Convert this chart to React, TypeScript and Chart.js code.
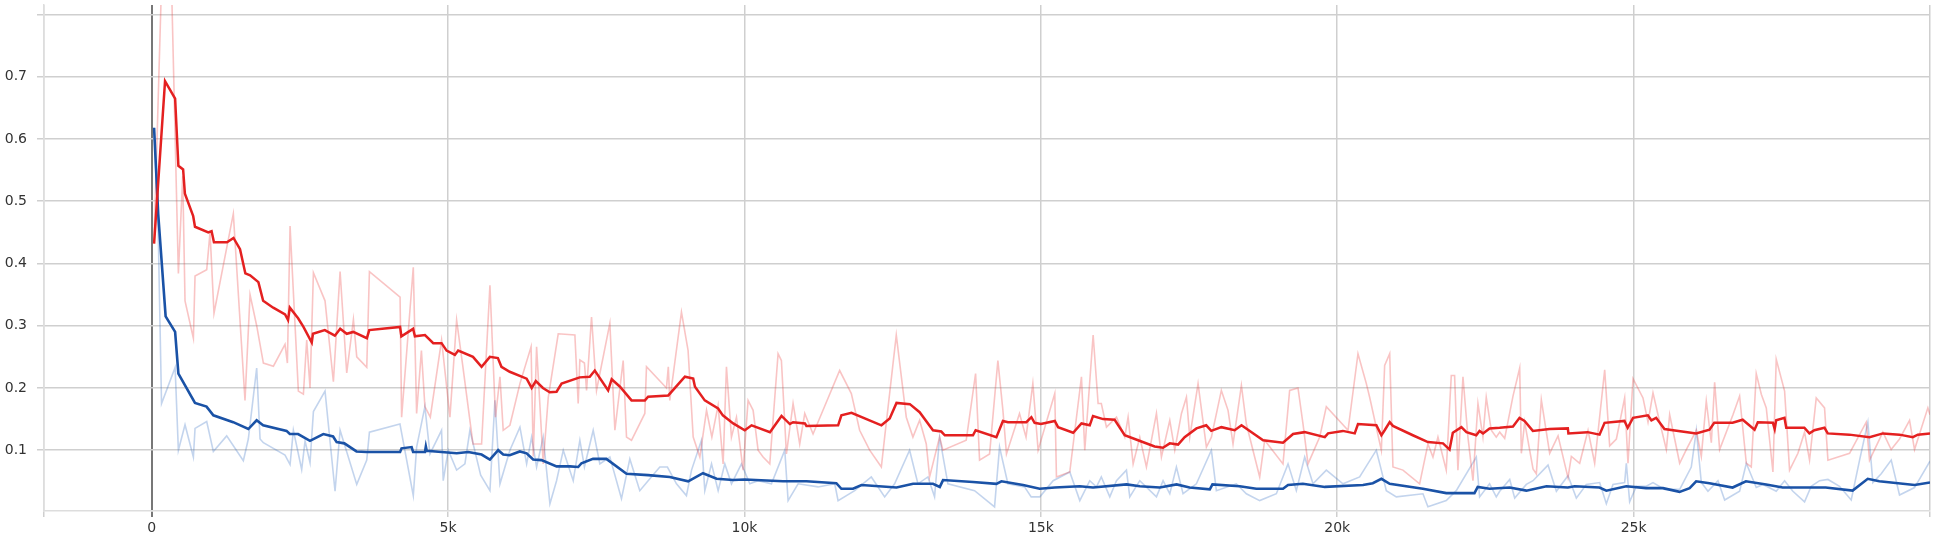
import React, { useEffect, useRef } from "react";
import { Chart, registerables } from "chart.js";

Chart.register(...registerables);

// x tick labels (steps)
const xTickValues = [0, 5000, 10000, 15000, 20000, 25000];
const xTickLabels = ["0", "5k", "10k", "15k", "20k", "25k"];
const yTickValues = [0.1, 0.2, 0.3, 0.4, 0.5, 0.6, 0.7, 0.8];
const yTickLabels = ["0.1", "0.2", "0.3", "0.4", "0.5", "0.6", "0.7", ""];

// Red run – smoothed
const redSmoothSteps = [40,225,395,450,530,560,700,730,955,1010,1050,1270,1380,1490,1580,1660,1800,1880,2050,2250,2300,2330,2470,2560,2700,2720,2920,3090,3180,3290,3400,3630,3670,4190,4212,4410,4440,4610,4750,4890,4975,5115,5170,5420,5565,5705,5840,5900,6040,6325,6410,6480,6600,6715,6830,6915,7220,7390,7475,7700,7760,7900,8095,8320,8375,8715,8995,9135,9165,9330,9555,9635,9810,10005,10120,10430,10625,10765,10820,11020,11045,11580,11635,11805,12310,12450,12565,12790,12955,13180,13320,13380,13855,13900,14250,14360,14445,14755,14840,14895,15000,15235,15290,15545,15685,15825,15880,16050,16245,16415,16640,16920,17060,17175,17315,17425,17625,17790,17875,18045,18270,18385,18750,19085,19255,19450,19790,19845,20095,20295,20350,20660,20745,20800,20885,20940,21275,21530,21785,21895,21950,22095,22180,22345,22400,22460,22570,22740,22965,23075,23160,23300,23580,23890,23900,24225,24425,24510,24845,24900,24990,25240,25300,25380,25520,26055,26280,26360,26670,26840,27040,27095,27350,27380,27405,27545,27575,27880,27965,28050,28220,28275,28640,28980,29205,29485,29710,29795,30000];
const redSmoothValues = [0.432,0.693,0.665,0.557,0.551,0.512,0.476,0.459,0.45,0.452,0.434,0.434,0.441,0.423,0.384,0.381,0.37,0.34,0.329,0.318,0.309,0.329,0.312,0.298,0.273,0.287,0.293,0.284,0.295,0.287,0.29,0.28,0.293,0.298,0.283,0.295,0.283,0.285,0.272,0.272,0.26,0.253,0.26,0.25,0.234,0.25,0.248,0.234,0.226,0.215,0.2,0.211,0.2,0.193,0.194,0.207,0.217,0.218,0.228,0.196,0.214,0.202,0.18,0.18,0.186,0.188,0.218,0.215,0.202,0.18,0.167,0.156,0.143,0.132,0.14,0.129,0.155,0.142,0.145,0.143,0.139,0.14,0.156,0.16,0.14,0.151,0.176,0.174,0.161,0.132,0.13,0.124,0.124,0.132,0.121,0.147,0.145,0.145,0.153,0.144,0.142,0.147,0.137,0.128,0.143,0.14,0.155,0.15,0.149,0.124,0.116,0.106,0.104,0.111,0.109,0.121,0.135,0.14,0.131,0.137,0.132,0.14,0.116,0.112,0.126,0.129,0.121,0.127,0.131,0.127,0.142,0.14,0.124,0.132,0.145,0.139,0.124,0.113,0.111,0.101,0.128,0.137,0.129,0.124,0.131,0.127,0.135,0.136,0.138,0.152,0.147,0.131,0.134,0.135,0.127,0.129,0.125,0.144,0.147,0.136,0.152,0.156,0.148,0.152,0.134,0.127,0.133,0.144,0.144,0.149,0.133,0.145,0.144,0.134,0.148,0.152,0.136,0.136,0.127,0.132,0.136,0.127,0.125,0.121,0.127,0.125,0.121,0.125,0.127];

// Red run – raw
const redRawSteps = [39,196,309,450,523,562,703,731,928,984,1051,1377,1574,1659,1771,1884,2053,2249,2289,2334,2474,2559,2615,2671,2728,2924,3065,3178,3290,3403,3459,3628,3673,4190,4216,4413,4469,4550,4609,4700,4890,5031,5144,5250,5420,5565,5706,5800,5875,5930,6043,6212,6400,6437,6493,6605,6690,6858,7139,7195,7223,7300,7336,7420,7504,7729,7814,7954,8010,8094,8319,8347,8684,8715,8740,8937,9049,9135,9247,9360,9450,9555,9640,9696,9780,9865,9977,10061,10146,10230,10314,10427,10567,10623,10708,10820,10932,11017,11157,11606,11803,11943,12112,12309,12365,12561,12730,12842,12955,13067,13123,13292,13348,13741,13899,13966,14135,14275,14360,14420,14640,14750,14865,14954,15235,15263,15488,15685,15741,15882,15966,16020,16107,16276,16416,16472,16557,16669,16781,16950,17034,17175,17259,17372,17456,17512,17652,17793,17877,18045,18158,18242,18383,18467,18692,18776,19085,19197,19338,19423,19507,19704,19816,20182,20350,20491,20547,20744,20800,20885,20940,21109,21390,21530,21615,21699,21839,21924,21980,22036,22121,22205,22290,22374,22458,22514,22599,22683,22741,22825,22965,23078,23106,23162,23303,23359,23443,23584,23725,23893,23950,24090,24231,24343,24512,24596,24709,24849,24905,24990,25158,25243,25327,25411,25552,25608,25777,25889,26058,26142,26226,26311,26367,26451,26676,26788,26901,26985,27069,27154,27238,27350,27406,27547,27631,27772,27884,27968,28081,28221,28278,28643,28924,28980,29205,29345,29486,29655,29739,29964,30000];
const redRawValues = [0.432,0.95,0.95,0.384,0.54,0.34,0.28,0.38,0.39,0.45,0.32,0.48,0.18,0.35,0.3,0.24,0.235,0.27,0.24,0.46,0.195,0.19,0.277,0.2,0.385,0.34,0.21,0.387,0.224,0.31,0.25,0.233,0.387,0.346,0.153,0.394,0.159,0.26,0.17,0.153,0.277,0.153,0.309,0.234,0.11,0.11,0.365,0.153,0.218,0.132,0.14,0.207,0.266,0.09,0.266,0.078,0.185,0.287,0.285,0.175,0.245,0.24,0.196,0.314,0.196,0.304,0.132,0.244,0.121,0.116,0.159,0.234,0.2,0.234,0.18,0.322,0.26,0.121,0.089,0.164,0.121,0.172,0.078,0.234,0.121,0.153,0.068,0.18,0.164,0.1,0.089,0.078,0.255,0.244,0.094,0.175,0.11,0.159,0.126,0.228,0.191,0.132,0.1,0.073,0.121,0.285,0.153,0.121,0.148,0.11,0.057,0.121,0.1,0.116,0.223,0.084,0.094,0.244,0.164,0.094,0.159,0.121,0.207,0.1,0.191,0.057,0.065,0.218,0.1,0.285,0.175,0.175,0.137,0.153,0.121,0.153,0.078,0.121,0.073,0.159,0.089,0.148,0.1,0.159,0.185,0.121,0.207,0.105,0.121,0.196,0.164,0.11,0.204,0.142,0.057,0.116,0.078,0.196,0.2,0.142,0.078,0.121,0.17,0.132,0.255,0.207,0.185,0.1,0.236,0.255,0.073,0.068,0.046,0.11,0.089,0.121,0.068,0.22,0.22,0.068,0.218,0.121,0.051,0.175,0.121,0.185,0.132,0.121,0.129,0.119,0.187,0.232,0.095,0.145,0.07,0.062,0.181,0.095,0.123,0.056,0.09,0.079,0.132,0.079,0.229,0.107,0.118,0.184,0.079,0.215,0.184,0.145,0.192,0.157,0.101,0.157,0.079,0.101,0.132,0.09,0.179,0.112,0.209,0.101,0.157,0.187,0.079,0.073,0.223,0.19,0.168,0.065,0.246,0.195,0.068,0.095,0.129,0.084,0.184,0.168,0.084,0.095,0.145,0.084,0.129,0.101,0.118,0.148,0.101,0.168,0.157];

// Blue run – smoothed
const blueSmoothSteps = [40,110,235,395,450,730,925,1040,1375,1630,1770,1880,2275,2330,2470,2670,2895,3060,3120,3250,3455,3625,4190,4215,4385,4410,4610,4625,4640,4890,5145,5340,5565,5705,5845,5930,6040,6210,6325,6435,6575,6830,7055,7195,7250,7445,7670,8010,8375,8740,9050,9300,9530,9810,10005,10650,11045,11550,11635,11830,11975,12565,12845,13180,13295,13350,13855,14250,14335,14700,14980,15235,15655,15880,16445,16670,17005,17290,17510,17850,17895,18355,18635,19085,19170,19420,19790,20435,20600,20745,20885,21445,21840,22315,22370,22570,22910,23190,23530,23890,24005,24425,24540,24875,25210,25495,25775,25945,26055,26280,26670,26895,27235,27515,28240,28695,28950,29145,29740,30000];
const blueSmoothValues = [0.618,0.479,0.315,0.29,0.223,0.176,0.17,0.156,0.145,0.134,0.148,0.14,0.131,0.126,0.126,0.115,0.126,0.122,0.113,0.111,0.098,0.097,0.097,0.103,0.105,0.097,0.097,0.106,0.099,0.097,0.095,0.097,0.093,0.085,0.1,0.093,0.092,0.098,0.095,0.085,0.084,0.074,0.074,0.073,0.079,0.086,0.086,0.062,0.06,0.057,0.05,0.063,0.054,0.052,0.053,0.05,0.05,0.047,0.038,0.038,0.044,0.04,0.046,0.046,0.041,0.052,0.049,0.046,0.05,0.044,0.038,0.04,0.042,0.04,0.045,0.042,0.04,0.045,0.04,0.037,0.045,0.042,0.038,0.038,0.044,0.046,0.041,0.044,0.047,0.054,0.046,0.038,0.031,0.031,0.041,0.038,0.04,0.035,0.042,0.04,0.042,0.04,0.035,0.042,0.039,0.039,0.033,0.039,0.05,0.047,0.04,0.05,0.045,0.04,0.04,0.035,0.054,0.05,0.044,0.048];

// Blue run – raw
const blueRawSteps = [40,110,166,395,450,562,703,731,928,1040,1265,1546,1630,1771,1828,1884,2249,2334,2390,2530,2587,2671,2728,2924,3093,3178,3459,3628,3673,4188,4413,4469,4609,4694,4890,4918,5003,5144,5284,5368,5550,5706,5790,5875,6043,6212,6325,6409,6493,6605,6718,6830,6943,7111,7223,7300,7448,7560,7729,7925,8066,8234,8375,8572,8700,8853,9021,9107,9275,9331,9444,9556,9668,9781,9949,10090,10230,10455,10680,10736,10905,11242,11523,11579,11859,12140,12365,12533,12786,12926,13095,13207,13292,13432,13882,14219,14303,14444,14725,14837,14983,15207,15488,15657,15825,15938,16020,16163,16276,16444,16500,16669,16950,17062,17175,17287,17399,17624,17877,17961,18298,18467,18692,18973,19170,19310,19451,19591,19816,20097,20378,20659,20744,20828,20997,21446,21530,21839,22008,22346,22402,22570,22683,22741,22910,22994,23190,23303,23556,23697,23893,24034,24202,24427,24540,24652,24849,24877,24933,25046,25214,25327,25524,25777,25973,26058,26142,26254,26423,26536,26788,26901,27069,27182,27406,27547,27687,27884,27996,28137,28278,28474,28671,28812,28952,29036,29177,29346,29486,29739,29992,30000];
const blueRawValues = [0.618,0.45,0.175,0.233,0.1,0.141,0.089,0.135,0.146,0.098,0.123,0.083,0.118,0.232,0.118,0.112,0.092,0.077,0.132,0.069,0.115,0.08,0.162,0.195,0.034,0.132,0.045,0.084,0.129,0.142,0.027,0.105,0.17,0.094,0.132,0.051,0.1,0.068,0.078,0.132,0.06,0.035,0.18,0.046,0.1,0.137,0.078,0.121,0.073,0.121,0.014,0.051,0.1,0.051,0.116,0.073,0.132,0.078,0.089,0.022,0.086,0.035,0.051,0.073,0.073,0.046,0.027,0.068,0.116,0.035,0.078,0.035,0.078,0.046,0.078,0.046,0.051,0.046,0.1,0.019,0.046,0.041,0.046,0.019,0.035,0.057,0.025,0.046,0.1,0.046,0.057,0.025,0.121,0.046,0.035,0.009,0.105,0.046,0.041,0.025,0.025,0.051,0.065,0.019,0.051,0.041,0.057,0.025,0.051,0.068,0.025,0.051,0.025,0.051,0.03,0.073,0.03,0.046,0.1,0.035,0.046,0.03,0.019,0.03,0.078,0.035,0.089,0.046,0.068,0.046,0.057,0.1,0.068,0.035,0.025,0.03,0.009,0.019,0.035,0.089,0.025,0.046,0.025,0.034,0.053,0.023,0.045,0.051,0.076,0.034,0.059,0.023,0.045,0.048,0.014,0.045,0.048,0.079,0.017,0.042,0.042,0.048,0.037,0.037,0.073,0.132,0.048,0.034,0.051,0.02,0.034,0.079,0.04,0.045,0.034,0.051,0.034,0.017,0.042,0.051,0.053,0.042,0.02,0.084,0.145,0.048,0.062,0.084,0.028,0.04,0.081,0.08];

const X_MIN = -1817;
const X_MAX = 30000;
const Y_MIN = 0.0023;
const Y_MAX = 0.8153;

function pts(steps: number[], values: number[]) {
  return steps.map((s, i) => ({ x: s, y: values[i] }));
}

export default function App() {
  const ref = useRef<HTMLCanvasElement | null>(null);

  useEffect(() => {
    document.body.style.margin = "0";
    const canvas = ref.current;
    if (!canvas) return;
    const font = { family: "'DejaVu Sans', sans-serif", size: 14 };
    const chart = new Chart(canvas, {
      type: "line",
      data: {
        datasets: [
          {
            label: "red smoothed",
            data: pts(redSmoothSteps, redSmoothValues),
            borderColor: "rgb(228,32,32)",
            borderWidth: 2.5,
            pointRadius: 0,
            tension: 0,
            order: 0,
          },
          {
            label: "blue smoothed",
            data: pts(blueSmoothSteps, blueSmoothValues),
            borderColor: "rgb(26,82,166)",
            borderWidth: 2.6,
            pointRadius: 0,
            tension: 0,
            order: 1,
          },
          {
            label: "red raw",
            data: pts(redRawSteps, redRawValues),
            borderColor: "rgba(235,60,60,0.3)",
            borderWidth: 1.6,
            pointRadius: 0,
            tension: 0,
            order: 2,
          },
          {
            label: "blue raw",
            data: pts(blueRawSteps, blueRawValues),
            borderColor: "rgba(40,100,190,0.28)",
            borderWidth: 1.6,
            pointRadius: 0,
            tension: 0,
            order: 3,
          },
        ],
      },
      options: {
        responsive: false,
        animation: false,
        layout: { padding: { left: 0, top: 5, right: 8, bottom: 0 } },
        plugins: { legend: { display: false }, tooltip: { enabled: false } },
        scales: {
          x: {
            type: "linear",
            min: X_MIN,
            max: X_MAX,
            afterBuildTicks: (scale: any) => {
              scale.ticks = [X_MIN, ...xTickValues, X_MAX].map((v) => ({ value: v }));
            },
            afterFit: (scale: any) => {
              scale.height = 31;
              scale.paddingLeft = 0;
              scale.paddingRight = 0;
            },
            ticks: {
              autoSkip: false,
              maxRotation: 0,
              padding: 3,
              color: "#333",
              font,
              callback: (v: any) => {
                const i = xTickValues.indexOf(Number(v));
                return i >= 0 ? xTickLabels[i] : "";
              },
            },
            grid: {
              color: (ctx: any) => (ctx.tick && ctx.tick.value === 0 ? "#777777" : "#cfcfcf"),
              lineWidth: (ctx: any) => (ctx.tick && ctx.tick.value === 0 ? 2 : 1.5),
              tickLength: 6,
              drawTicks: true,
            },
            border: { display: true, color: "#dddddd", width: 1.5 },
          },
          y: {
            type: "linear",
            min: Y_MIN,
            max: Y_MAX,
            afterBuildTicks: (scale: any) => {
              scale.ticks = yTickValues.map((v) => ({ value: v }));
            },
            afterFit: (scale: any) => {
              scale.width = 44;
              scale.paddingTop = 0;
              scale.paddingBottom = 0;
            },
            ticks: {
              autoSkip: false,
              padding: 10,
              color: "#333",
              font,
              callback: (v: any) => {
                const i = yTickValues.findIndex((t) => Math.abs(t - Number(v)) < 1e-6);
                return i >= 0 ? yTickLabels[i] : "";
              },
            },
            grid: { color: "#cfcfcf", lineWidth: 1.5, tickLength: 7, drawTicks: true },
            border: { display: true, color: "#dddddd", width: 1.5 },
          },
        },
      },
    } as any);
    return () => chart.destroy();
  }, []);

  return (
    <div style={{ position: "absolute", left: 0, top: 0, width: 1938, height: 542 }}>
      <canvas ref={ref} width={1938} height={542} style={{ width: 1938, height: 542, display: "block" }} />
    </div>
  );
}
